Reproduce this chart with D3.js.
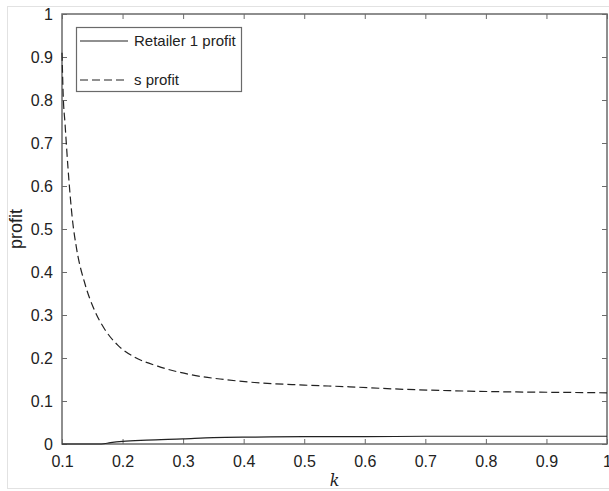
<!DOCTYPE html>
<html>
<head>
<meta charset="utf-8">
<script src="https://cdn.jsdelivr.net/npm/d3@7"></script>
<style>
  html, body { margin: 0; padding: 0; background: #fff; }
  svg text { font-family: "Liberation Sans", Arial, sans-serif; fill: #222; }
</style>
</head>
<body>
<svg id="chart" width="609" height="491"></svg>
<script>
// s profit curve
const sK      = [0.100, 0.102, 0.105, 0.110, 0.117, 0.124, 0.138, 0.154, 0.170, 0.192, 0.220, 0.258, 0.313, 0.368, 0.418, 0.500, 0.575, 0.650, 0.740, 0.850, 0.930, 1.000];
const sProfit = [0.910, 0.810, 0.745, 0.640, 0.525, 0.455, 0.372, 0.310, 0.268, 0.230, 0.202, 0.181, 0.161, 0.150, 0.143, 0.137, 0.133, 0.128, 0.124, 0.121, 0.120, 0.119];

// Retailer 1 profit curve
const rK      = [0.100, 0.165, 0.180, 0.200, 0.240, 0.300, 0.350, 0.420, 0.500, 0.600, 0.700, 0.850, 1.000];
const rProfit = [0.000, 0.000, 0.003, 0.006, 0.009, 0.012, 0.015, 0.016, 0.017, 0.017, 0.018, 0.018, 0.018];

const xTicks = [0.1, 0.2, 0.3, 0.4, 0.5, 0.6, 0.7, 0.8, 0.9, 1];
const yTicks = [0, 0.1, 0.2, 0.3, 0.4, 0.5, 0.6, 0.7, 0.8, 0.9, 1];
const legendLabels = ['Retailer 1 profit', 's profit'];

const svg = d3.select('#chart');
const L = 62, R = 607, T = 14, B = 444;

// faint outer frame of the figure
svg.append('rect')
  .attr('x', 7.5).attr('y', 6.5).attr('width', 640).attr('height', 482)
  .attr('fill', 'none').attr('stroke', '#e2e2e2').attr('stroke-width', 1);

const x = d3.scaleLinear().domain([0.1, 1]).range([L, R]);
const y = d3.scaleLinear().domain([0, 1]).range([B, T]);

const fmt = d => (d === 0 || d === 1) ? String(d) : d3.format('.1f')(d);
const axisColor = '#6a6a6a';

function styleAxis(g, labels) {
  g.select('.domain').remove();
  g.selectAll('.tick line').attr('stroke', axisColor).attr('stroke-width', 1);
  g.selectAll('.tick text').attr('font-size', 16).attr('fill', '#222');
  if (!labels) g.selectAll('.tick text').remove();
}

// bottom & top ticks (inward)
svg.append('g').attr('transform', `translate(0,${B})`)
  .call(d3.axisBottom(x).tickValues(xTicks).tickFormat(fmt).tickSizeInner(-5).tickSizeOuter(0).tickPadding(12))
  .call(g => styleAxis(g, true));
svg.append('g').attr('transform', `translate(0,${T})`)
  .call(d3.axisTop(x).tickValues(xTicks).tickSizeInner(-5).tickSizeOuter(0))
  .call(g => styleAxis(g, false));

// left & right ticks (inward)
svg.append('g').attr('transform', `translate(${L},0)`)
  .call(d3.axisLeft(y).tickValues(yTicks).tickFormat(fmt).tickSizeInner(-5).tickSizeOuter(0).tickPadding(9))
  .call(g => styleAxis(g, true));
svg.append('g').attr('transform', `translate(${R},0)`)
  .call(d3.axisRight(y).tickValues(yTicks).tickSizeInner(-5).tickSizeOuter(0))
  .call(g => styleAxis(g, false));

// axes box
svg.append('rect')
  .attr('x', L).attr('y', T).attr('width', R - L).attr('height', B - T)
  .attr('fill', 'none').attr('stroke', axisColor).attr('stroke-width', 1.5);

// curves
const line = d3.line().x(d => x(d[0])).y(d => y(d[1])).curve(d3.curveMonotoneX);

svg.append('path')
  .datum(rK.map((k, i) => [k, rProfit[i]]))
  .attr('d', line)
  .attr('fill', 'none').attr('stroke', '#222').attr('stroke-width', 1.2);

svg.append('path')
  .datum(sK.map((k, i) => [k, sProfit[i]]))
  .attr('d', line)
  .attr('fill', 'none').attr('stroke', '#222').attr('stroke-width', 1.2)
  .attr('stroke-dasharray', '8,4');

// axis labels
svg.append('text')
  .attr('x', (L + R) / 2).attr('y', 486)
  .attr('text-anchor', 'middle')
  .style('font-family', '"DejaVu Serif", "Liberation Serif", serif')
  .style('font-style', 'italic')
  .attr('font-size', 16)
  .text('k');

svg.append('text')
  .attr('transform', `translate(22,${(T + B) / 2}) rotate(-90)`)
  .attr('text-anchor', 'middle')
  .attr('font-size', 18)
  .text('profit');

// legend
const lg = svg.append('g');
lg.append('rect')
  .attr('x', 76.5).attr('y', 27.5).attr('width', 165).attr('height', 64)
  .attr('fill', '#fff').attr('stroke', axisColor).attr('stroke-width', 1.2);

legendLabels.forEach((lab, i) => {
  const ly = 41 + i * 39;
  lg.append('line')
    .attr('x1', 80).attr('x2', 128).attr('y1', ly).attr('y2', ly)
    .attr('stroke', '#222').attr('stroke-width', 1.2)
    .attr('stroke-dasharray', i === 1 ? '8,4' : null);
  lg.append('text')
    .attr('x', 134).attr('y', ly + 5)
    .attr('font-size', 15)
    .text(lab);
});
</script>
</body>
</html>
